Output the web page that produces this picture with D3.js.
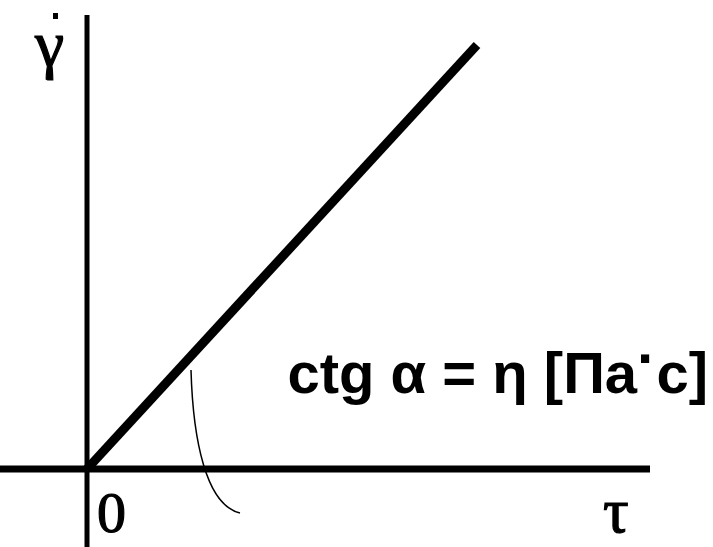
<!DOCTYPE html>
<html>
<head>
<meta charset="utf-8">
<script src="https://cdn.jsdelivr.net/npm/d3@7"></script>
<style>
  html, body { margin: 0; padding: 0; background: #fff; }
  svg { display: block; }
</style>
</head>
<body>
<script>
// Newtonian fluid: shear rate grows linearly with shear stress
const shearStress = [0, 1];      // τ
const shearRate   = [0, 1];      // γ̇
const axisLabels  = { x: "τ", y: "γ", origin: "0" };
const slopeLabel  = ["ctg α = η [Па", "·", "с]"];

const W = 713, H = 547;
const svg = d3.select("body").append("svg").attr("width", W).attr("height", H);

const x = d3.scaleLinear().domain([0, 1]).range([87, 477]);
const y = d3.scaleLinear().domain([0, 1]).range([469, 45]);

// axes
svg.append("line")
  .attr("x1", 0).attr("x2", 650)
  .attr("y1", y(0)).attr("y2", y(0))
  .attr("stroke", "#000").attr("stroke-width", 7);
svg.append("line")
  .attr("x1", x(0)).attr("x2", x(0))
  .attr("y1", 15).attr("y2", H)
  .attr("stroke", "#000").attr("stroke-width", 5);

// flow curve
const pts = shearStress.map((t, i) => [t, shearRate[i]]);
svg.append("path")
  .datum(pts)
  .attr("d", d3.line().x(d => x(d[0])).y(d => y(d[1])))
  .attr("fill", "none")
  .attr("stroke", "#000")
  .attr("stroke-width", 9)
  .attr("stroke-linecap", "butt");

// leader line for the slope annotation
const lp = d3.path();
lp.moveTo(191, 370);
lp.bezierCurveTo(193, 440, 206, 505, 240, 513);
svg.append("path")
  .attr("d", lp.toString())
  .attr("fill", "none")
  .attr("stroke", "#000")
  .attr("stroke-width", 1.5);

// axis labels (slightly heavier serif strokes)
const serif = "'Liberation Serif', 'DejaVu Serif', serif";
const labelStyle = sel => sel
  .attr("font-family", serif)
  .attr("stroke", "#000")
  .attr("stroke-width", 1.2);
svg.append("text")
  .attr("x", 35).attr("y", 66)
  .attr("font-size", 66)
  .call(labelStyle)
  .text(axisLabels.y);
svg.append("rect")
  .attr("x", 53).attr("y", 13).attr("width", 5).attr("height", 6)
  .attr("fill", "#000");
svg.append("text")
  .attr("x", 603).attr("y", 532)
  .attr("font-size", 64)
  .call(labelStyle)
  .text(axisLabels.x);
svg.append("text")
  .attr("x", 97).attr("y", 532)
  .attr("font-size", 58)
  .call(labelStyle)
  .text(axisLabels.origin);

// slope annotation
const t = svg.append("text")
  .attr("x", 708).attr("y", 393)
  .attr("text-anchor", "end")
  .attr("font-family", "'Liberation Sans', Arial, sans-serif")
  .attr("font-weight", "bold")
  .attr("font-size", 58);
t.append("tspan").text(slopeLabel[0]);
t.append("tspan").attr("dy", -15).text(slopeLabel[1]);
t.append("tspan").attr("dy", 15).text(slopeLabel[2]);
</script>
</body>
</html>
